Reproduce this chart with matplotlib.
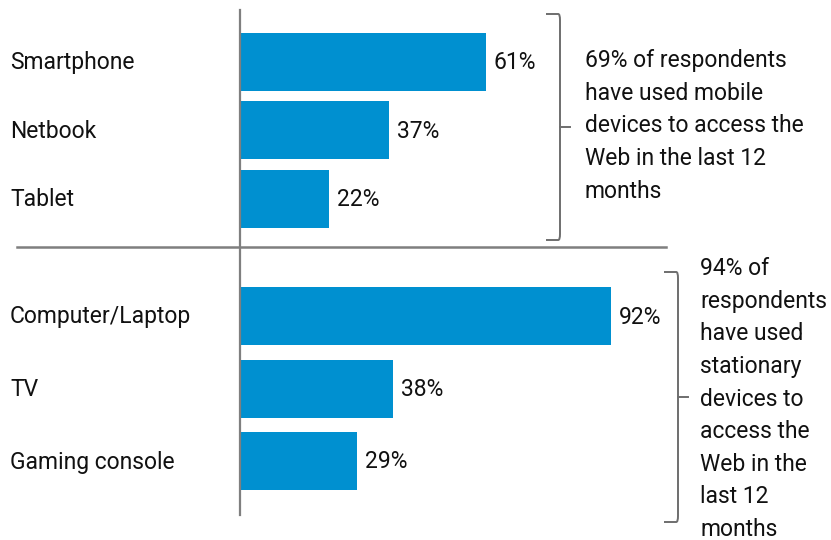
import matplotlib.pyplot as plt
from matplotlib.path import Path
from matplotlib.patches import PathPatch

plt.rcParams['font.family'] = ['Roboto', 'DejaVu Sans']

# data
mobile_devices = ['Smartphone', 'Netbook', 'Tablet']
mobile_share = [61, 37, 22]
stationary_devices = ['Computer/Laptop', 'TV', 'Gaming console']
stationary_share = [92, 38, 29]
mobile_note = '69% of respondents\nhave used mobile\ndevices to access the\nWeb in the last 12\nmonths'
stationary_note = ('94% of\nrespondents\nhave used\nstationary\ndevices to\naccess the\n'
                   'Web in the\nlast 12\nmonths')

BAR = '#0090d0'
GREY = '#7f7f7f'
INK = '#111111'
FS = 16.5

W, H = 831, 540
PX_PER_PCT = 4.03
X0 = 240  # pixel position of the value axis


def px(x):
    """pixel x -> percent units"""
    return (x - X0) / PX_PER_PCT


fig = plt.figure(figsize=(W / 100, H / 100), dpi=100)
ax = fig.add_axes([0, 0, 1, 1])
ax.set_xlim(px(0), px(W))
ax.set_ylim(H, 0)   # y in pixel-like rows, top to bottom
ax.axis('off')

groups = [
    (mobile_devices, mobile_share, 61.5, 68.5),
    (stationary_devices, stationary_share, 316, 72.5),
]
bar_h = 58

for names, vals, base, pitch in groups:
    ys = [base + i * pitch for i in range(len(names))]
    ax.barh(ys, vals, height=bar_h, left=0, color=BAR, zorder=2)
    for y, name, v in zip(ys, names, vals):
        ax.text(px(10), y + 1, name, ha='left', va='center', fontsize=FS, color=INK)
        ax.text(v + px(X0 + 8), y + 1, f'{v}%', ha='left', va='center',
                fontsize=FS, color=INK)

# value axis and separator
ax.plot([0, 0], [10, 515], color=GREY, lw=1.6, zorder=3)
ax.plot([px(17), px(666)], [247, 247], color=GREY, lw=1.8, zorder=3)


def bracket(x_px, top, bottom, hook=14, tick=10, r=6):
    x = px(x_px)
    xh = px(x_px - hook)
    xr = px(x_px - r * 0.3)
    mid = (top + bottom) / 2
    verts = [(xh, top), (xr, top), (x, top), (x, top + r),
             (x, bottom - r), (x, bottom), (xr, bottom), (xh, bottom)]
    codes = [Path.MOVETO, Path.LINETO, Path.CURVE3, Path.CURVE3,
             Path.LINETO, Path.CURVE3, Path.CURVE3, Path.LINETO]
    ax.add_patch(PathPatch(Path(verts, codes), fill=False, edgecolor='#6e6e6e', lw=1.4))
    ax.plot([x, px(x_px + tick)], [mid, mid], color='#6e6e6e', lw=1.4)


bracket(560, 14, 240)
bracket(678, 272, 522)

ax.text(px(585), 126, mobile_note, ha='left', va='center', fontsize=FS,
        color=INK, linespacing=1.53)
ax.text(px(700), 399, stationary_note, ha='left', va='center', fontsize=FS,
        color=INK, linespacing=1.53)

fig.savefig('out.png', dpi=100)
